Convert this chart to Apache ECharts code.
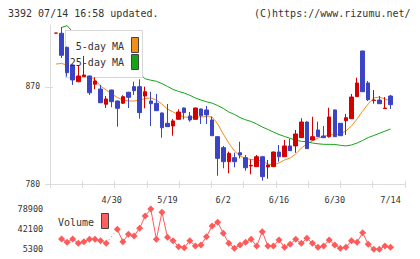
<!DOCTYPE html>
<html><head><meta charset="utf-8">
<script src="https://cdn.jsdelivr.net/npm/echarts@6/dist/echarts.min.js"></script>
<style>html,body{margin:0;padding:0;background:#fff}#c{width:420px;height:259px}</style>
</head><body><div id="c"></div>
<script>
const categories = ['4/15','4/16','4/17','4/18','4/21','4/22','4/23','4/24','4/25','4/28',
 '4/30','5/1','5/2','5/7','5/8','5/9','5/12','5/13','5/14','5/16',
 '5/19','5/20','5/21','5/22','5/23','5/26','5/27','5/28','5/29','5/30',
 '6/2','6/3','6/4','6/5','6/6','6/9','6/10','6/11','6/12','6/13',
 '6/16','6/17','6/18','6/19','6/20','6/23','6/24','6/25','6/26','6/27',
 '6/30','7/1','7/2','7/3','7/4','7/7','7/8','7/9','7/10','7/11','7/14'];
const dateTicks = ['4/30','5/19','6/2','6/16','6/30','7/14'];
const priceTicks = [780, 870];
const volumeTicks = [5300, 42100, 78900];

const opens = [920,919.8,906.8,890.4,874.9,879.6,880.2,872.5,868.1,854.0,
 867.2,857.0,854.9,865.1,870.3,870.3,861.6,857.0,854.9,845.9,
 836.3,833.8,840.0,850.5,843.1,840.0,849.6,848.7,839.4,823.9,
 813.7,800.7,804.4,809.0,804.4,796.7,796.1,805.3,795.8,796.1,
 809.7,805.3,815.3,815.3,823.0,837.5,820.8,830.1,824.5,823.9,
 848.7,836.3,838.7,840.6,861.0,903.4,873.7,857.5,857.9,850.0,861.6];
const closes = [920,899.4,883.3,876.5,880.2,881.1,864.7,875.6,855.4,858.9,
 856.4,850.2,861.0,860.4,866.6,846.2,865.6,854.5,848.0,832.2,
 833.2,838.5,846.8,846.2,839.4,850.5,843.4,844.1,824.8,803.8,
 800.7,808.5,800.7,806.9,795.1,797.2,805.3,786.8,797.6,809.7,
 805.3,815.3,810.9,826.4,837.5,812.8,823.9,823.9,823.0,842.2,
 823.9,824.8,841.5,860.7,873.7,865.6,858.2,857.9,854.5,850.5,853.6];
const lows = [920,896.9,879.6,871.9,874.5,879.3,862.6,867.9,855.0,850.5,
 851.2,833.2,854.5,850.5,862.6,840.6,850.2,833.8,847.7,823.0,
 832.9,824.8,839.7,840.0,837.8,839.7,835.7,835.7,824.5,787.7,
 794.6,789.9,795.5,803.8,792.3,789.0,795.8,783.1,784.9,795.8,
 800.7,805.0,810.6,809.0,822.7,812.5,820.5,823.6,822.7,823.0,
 823.6,824.5,825.5,840.3,860.7,865.3,857.0,854.5,854.2,850.0,849.6];
const highs = [920,925.7,907.5,891.0,890.4,898.8,880.5,879.0,871.9,861.6,
 867.5,857.3,862.3,865.5,874.9,877.1,870.3,865.6,863.5,846.3,
 854.2,840.3,849.3,850.8,846.8,850.8,849.9,852.4,842.4,824.2,
 815.3,810.0,809.0,819.2,806.9,802.9,806.9,805.6,802.3,810.0,
 816.2,820.8,821.8,830.1,841.0,838.2,842.4,837.8,833.8,850.8,
 849.0,836.6,845.0,863.5,878.6,903.7,875.6,867.2,861.6,860.7,862.6];
const ma5 = [891.3,891.8,890.4,888.6,885.8,883.0,880.2,876.5,870.9,867.2,
 863.5,860.3,857.9,857.0,857.0,857.9,859.3,859.8,857.9,854.2,
 849.6,846.8,844.0,842.2,841.7,842.2,842.2,842.6,842.2,835.7,
 826.4,818.0,810.6,806.0,803.7,802.7,802.3,801.3,798.5,797.6,
 799.5,802.3,804.1,807.8,813.4,817.1,819.9,822.7,824.1,825.5,
 825.9,826.4,829.2,833.8,840.3,847.7,854.2,859.8,860.7,858.9,857.0];
const ma25 = [null,925.2,926.9,921.0,917.3,913.6,909.9,906.2,903.4,900.6,
 897.8,895.0,892.3,889.5,885.8,882.1,877.6,876.3,875.3,873.2,
 870.5,867.7,865.8,864.4,862.3,859.8,857.9,856.3,855.0,852.8,
 850.1,846.8,844.5,841.7,839.6,838.0,835.7,832.9,830.6,828.2,
 825.9,824.1,822.4,820.5,819.6,819.2,818.0,817.3,816.8,816.8,
 816.7,815.9,815.3,816.2,818.0,820.4,823.1,825.0,827.0,829.0,831.0];
const volumes = [null,23700,17600,23700,15800,18700,23100,23100,20600,15800,
 null,41500,18700,32300,29200,43400,66000,78900,23100,72800,
 26800,20600,9500,7700,20600,10800,12700,27900,47600,54400,
 34200,15800,6600,12700,17600,23100,10800,37100,10800,10800,
 21900,8400,14000,23100,15800,25000,15800,8400,10800,21900,
 12700,6600,8400,20600,17600,35300,14000,4700,4700,10800,8400];

const candleData = opens.map((o, i) => [o, closes[i], lows[i], highs[i]]);
// bridge only interior gaps in the volume line (drawn dotted)
const firstVol = volumes.findIndex(v => v != null);
const volGap = volumes.map((v, i) => {
  if (v == null || i <= firstVol && volumes[i+1] != null) return null;
  const before = i > firstVol && volumes[i-1] == null;
  const after = i < volumes.length - 1 && volumes[i+1] == null;
  return (before || after) ? v : null;
});

const FONT = 'DejaVu Sans Mono';
const chart = echarts.init(document.getElementById('c'), null, {renderer: 'svg'});
const noLine = {show: false};
chart.setOption({
  animation: false,
  backgroundColor: '#fff',
  grid: [
    {left: 53.2, top: 25, width: 340.1, height: 159},
    {left: 50, top: 25, width: 355, height: 159},
    {left: 53.2, top: 205, width: 340.1, height: 50}
  ],
  xAxis: [
    {type: 'category', gridIndex: 0, position: 'bottom', data: categories, boundaryGap: true,
     axisLine: noLine, axisTick: noLine, splitLine: noLine,
     axisLabel: {interval: (i, v) => dateTicks.includes(v), margin: 11, fontSize: 8.5, fontFamily: FONT, color: '#333'}},
    {type: 'value', gridIndex: 1, position: 'bottom', min: 0, max: 11, interval: 1,
     axisLine: {show: true, lineStyle: {color: '#dcdcdc', width: 1}}, axisTick: noLine, axisLabel: noLine, splitLine: noLine},
    {type: 'value', gridIndex: 1, position: 'bottom', min: 0, max: 11, interval: 1, offset: -3,
     axisLine: noLine, axisTick: {show: true, length: 7, lineStyle: {color: '#dcdcdc'}}, axisLabel: noLine, splitLine: noLine},
    {type: 'category', gridIndex: 2, data: categories, boundaryGap: true, show: false}
  ],
  yAxis: [
    {type: 'value', gridIndex: 0, min: 780, max: 927.5, show: false, splitLine: noLine},
    {type: 'value', gridIndex: 1, position: 'left', min: 780, max: 927.5,
     axisLine: {show: true, lineStyle: {color: '#dcdcdc', width: 1}}, axisTick: noLine, splitLine: noLine,
     axisLabel: {customValues: priceTicks, margin: 10, fontSize: 8, fontFamily: FONT, color: '#333', formatter: v => String(v)}},
    {type: 'value', gridIndex: 1, position: 'left', min: 780, max: 927.5, offset: -3,
     axisLine: noLine, axisTick: {show: true, customValues: priceTicks, length: 8, lineStyle: {color: '#dcdcdc'}},
     axisLabel: noLine, splitLine: noLine},
    {type: 'value', gridIndex: 2, position: 'left', min: -5740, max: 86260,
     axisLine: noLine, axisTick: noLine, splitLine: noLine,
     axisLabel: {customValues: volumeTicks, margin: 10, fontSize: 8.5, fontFamily: FONT, color: '#333', formatter: v => String(v)}}
  ],
  graphic: [
    {type: 'text', x: 8, y: 13, z: 10, style: {text: '3392 07/14 16:58 updated.', font: '10px "DejaVu Sans Mono"', fill: '#333', textAlign: 'left', textVerticalAlign: 'middle'}},
    {type: 'text', x: 254, y: 13, z: 10, style: {text: '(C)https://www.rizumu.net/', font: '10px "DejaVu Sans Mono"', fill: '#333', textAlign: 'left', textVerticalAlign: 'middle'}},
    {type: 'rect', z: 2, shape: {x: 65.5, y: 30.5, width: 77, height: 47}, style: {fill: '#fff', stroke: '#d8d8d8', lineWidth: 1}},
    {type: 'text', x: 124, y: 46.5, z: 10, style: {text: '5-day MA', font: '10px "DejaVu Sans Mono"', fill: '#333', textAlign: 'right', textVerticalAlign: 'middle'}},
    {type: 'text', x: 124, y: 62.5, z: 10, style: {text: '25-day MA', font: '10px "DejaVu Sans Mono"', fill: '#333', textAlign: 'right', textVerticalAlign: 'middle'}},
    {type: 'rect', z: 10, shape: {x: 131.5, y: 37.5, width: 7, height: 15}, style: {fill: '#f0901a', stroke: '#444', lineWidth: 1}},
    {type: 'rect', z: 10, shape: {x: 131.5, y: 54.5, width: 7, height: 15}, style: {fill: '#16a316', stroke: '#444', lineWidth: 1}},
    {type: 'text', x: 58, y: 222, z: 10, style: {text: 'Volume', font: '10px "DejaVu Sans Mono"', fill: '#333', textAlign: 'left', textVerticalAlign: 'middle'}},
    {type: 'rect', z: 10, shape: {x: 101.5, y: 213.5, width: 7, height: 15}, style: {fill: '#ff5f5f', stroke: '#444', lineWidth: 1}}
  ],
  series: [
    {type: 'line', name: '5-day MA', xAxisIndex: 0, yAxisIndex: 0, data: ma5, showSymbol: false, z: 1,
     lineStyle: {color: '#f0901a', width: 1}, silent: true},
    {type: 'line', name: '25-day MA', xAxisIndex: 0, yAxisIndex: 0, data: ma25, showSymbol: false, z: 1,
     lineStyle: {color: '#16a316', width: 1}, silent: true},
    {type: 'candlestick', xAxisIndex: 0, yAxisIndex: 0, data: candleData, barWidth: 4, z: 3,
     itemStyle: {color: '#d40000', color0: '#3b44c4', borderColor: '#d40000', borderColor0: '#3b44c4', borderWidth: 1}},
    {type: 'line', name: 'Volume', xAxisIndex: 3, yAxisIndex: 3, data: volumes, connectNulls: false, clip: false,
     symbol: 'diamond', symbolSize: 7, showSymbol: true, showAllSymbol: true,
     itemStyle: {color: '#ff5a5a'}, lineStyle: {color: '#ff5a5a', width: 1}, z: 3},
    {type: 'line', xAxisIndex: 3, yAxisIndex: 3, data: volGap, connectNulls: true, clip: false, showSymbol: false,
     lineStyle: {color: '#ff5a5a', width: 1, type: [1, 3]}, z: 2}
  ]
});
</script></body></html>
